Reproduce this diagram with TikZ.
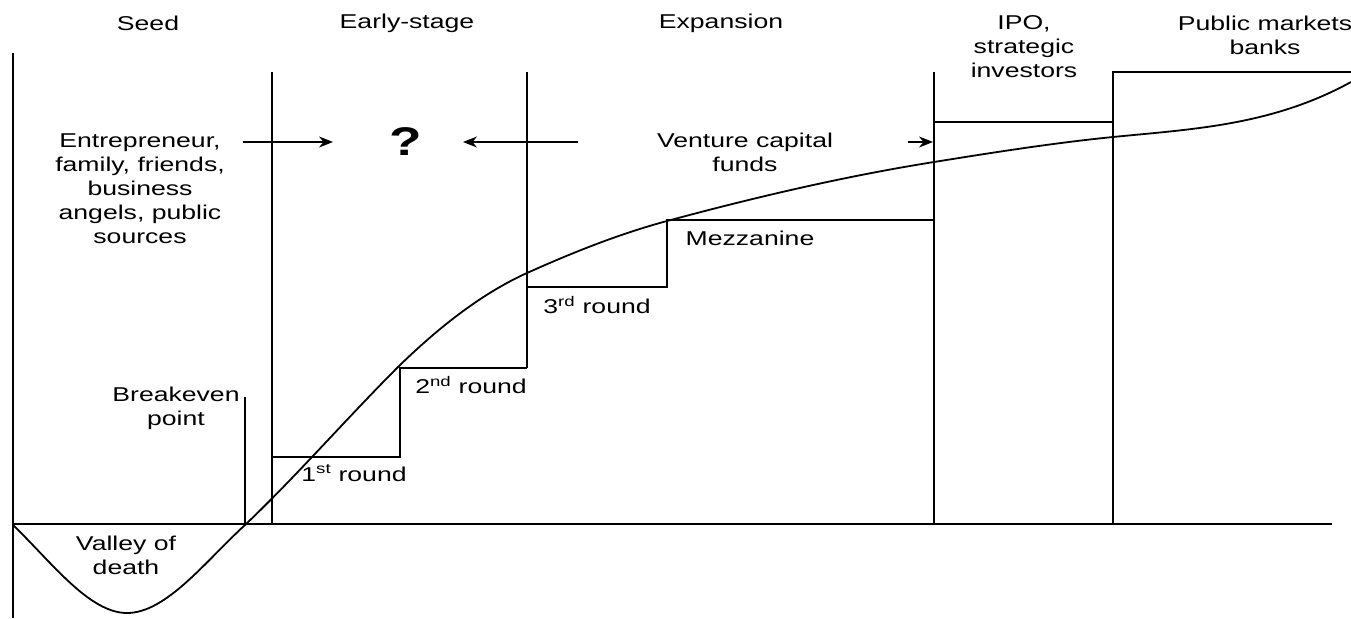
\documentclass[tikz,border=0pt]{standalone}
\usepackage{fontspec}
\setmainfont{Liberation Sans}
\newfontfamily\lab[FakeStretch=1.33]{Liberation Sans}
\usetikzlibrary{arrows.meta}
\begin{document}
\begin{tikzpicture}[x=1pt,y=-1pt,line width=1.5pt,
  lbl/.style={font=\lab\fontsize{20}{24}\selectfont,align=center,inner sep=0pt},
  qmark/.style={font=\lab\bfseries\fontsize{40}{48}\selectfont,inner sep=0pt},
  arr/.style={-{Stealth[length=14pt,width=11pt]},line width=1.2pt},
  curve/.style={line width=1.8pt}]
\useasboundingbox (0,0) rectangle (1351,618);
% axes and stage lines
\draw (13,53) -- (13,618);
\draw (13,524) -- (1332,524);
\draw (245,397) -- (245,524);
\draw (272,72) -- (272,524);
\draw (272,457) -- (400,457) -- (400,368) -- (527,368);
\draw (527,72) -- (527,368);
\draw (527,287) -- (667,287) -- (667,220) -- (934,220);
\draw (934,72) -- (934,524);
\draw (934,122) -- (1113,122);
\draw (1113,524) -- (1113,72) -- (1351,72);
% curve
\draw[curve] (13,525)
  .. controls (51,561.5) and (89,613) .. (127,613)
  .. controls (166.3,613) and (205.7,561) .. (245,525)
  .. controls (296,476.5) and (347,418) .. (398,367)
  .. controls (441,325) and (484,292.4) .. (527,273)
  .. controls (573.7,252) and (620.3,233.6) .. (667,221)
  .. controls (756,197) and (845,176.2) .. (934,162)
  .. controls (993.7,152.4) and (1053.3,143) .. (1113,137)
  .. controls (1192.3,129.1) and (1271.7,125.6) .. (1351,82);
% stage headings
\node[lbl] (seed) at (148,23) {Seed};
\node[lbl] (early) at (407,23) {Early-stage};
\node[lbl] (exp) at (721,23) {Expansion};
\node[lbl] (ipo) at (1024,47) {IPO,\\strategic\\investors};
\node[lbl] (pub) at (1265,35) {Public markets\\banks};
% sources
\node[lbl] (entr) at (140,188.5) {Entrepreneur,\\family, friends,\\business\\angels, public\\sources};
\node[qmark] (q) at (406,142) {?};
\node[lbl] (vc) at (745,152.5) {Venture capital\\funds};
\coordinate (a1s) at (243,142);
\coordinate (a1e) at (333,142);
\coordinate (a2s) at (578,142);
\coordinate (a2e) at (463,142);
\coordinate (a3s) at (908,142);
\coordinate (a3e) at (933,142);
\draw[arr] (a1s) -- (a1e);
\draw[arr] (a2s) -- (a2e);
\draw[arr] (a3s) -- (a3e);
% rounds
\node[lbl] (r1) at (354,473) {1\textsuperscript{st} round};
\node[lbl] (r2) at (471,385) {2\textsuperscript{nd} round};
\node[lbl] (r3) at (597,305) {3\textsuperscript{rd} round};
\node[lbl] (mez) at (750,238) {Mezzanine};
\node[lbl] (be) at (176,408.5) {Breakeven\\point};
\node[lbl] (vod) at (126,555.5) {Valley of\\death};
\end{tikzpicture}
\end{document}
